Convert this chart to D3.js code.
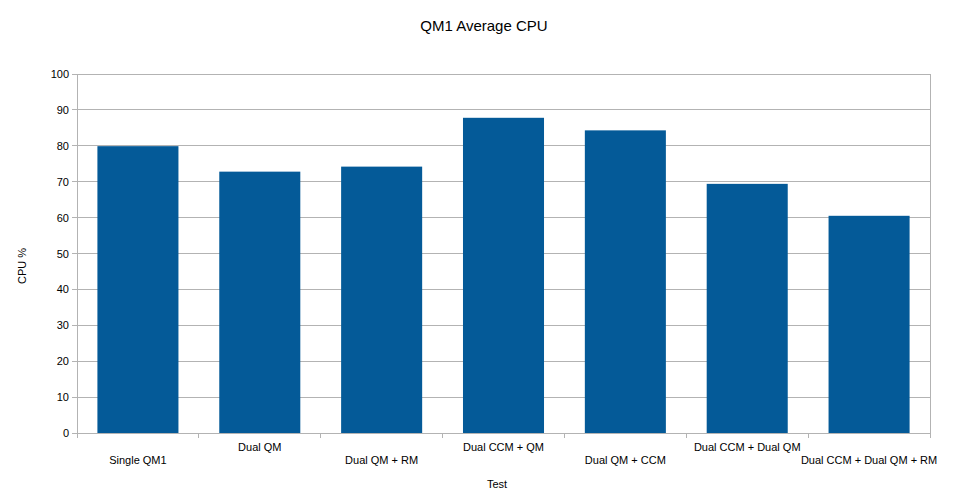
<!DOCTYPE html>
<html><head><meta charset="utf-8">
<script src="https://cdn.jsdelivr.net/npm/d3@7"></script>
<style>body{margin:0;background:#fff;} text{font-family:"Liberation Sans",Arial,sans-serif;fill:#000;}</style>
</head><body><svg id="c" width="978" height="502"></svg>
<script>
const categories = ["Single QM1","Dual QM","Dual QM + RM","Dual CCM + QM","Dual QM + CCM","Dual CCM + Dual QM","Dual CCM + Dual QM + RM"];
const cpuValues = [79.9, 72.8, 74.2, 87.8, 84.3, 69.4, 60.5];
const yTicks = [0,10,20,30,40,50,60,70,80,90,100];

const svg = d3.select("#c");
const m = {l:77, r:930, t:74, b:433};
const x = d3.scaleBand().domain(categories).range([m.l, m.r]).paddingInner(0.335).paddingOuter(0.1675);
const xb = d3.scaleBand().domain(categories).range([m.l, m.r]);
const y = d3.scaleLinear().domain([0,100]).range([m.b, m.t]);
const grid = "#b3b3b3";

// gridlines
svg.append("g").selectAll("line").data(yTicks).join("line")
  .attr("x1", m.l-5).attr("x2", m.r).attr("y1", d=>y(d)).attr("y2", d=>y(d))
  .attr("stroke", grid).attr("stroke-width",1).attr("shape-rendering","crispEdges");
// y labels
svg.append("g").selectAll("text").data(yTicks).join("text")
  .attr("x", m.l-8).attr("y", d=>y(d)+4).attr("text-anchor","end").attr("font-size",11).text(d=>d);
// axes lines
svg.append("line").attr("x1",m.l).attr("x2",m.l).attr("y1",m.t).attr("y2",m.b).attr("stroke",grid).attr("shape-rendering","crispEdges");
svg.append("line").attr("x1",m.r).attr("x2",m.r).attr("y1",m.t).attr("y2",m.b).attr("stroke",grid).attr("shape-rendering","crispEdges");
// x ticks at band boundaries
const bounds = categories.map(c=>xb(c)).concat([m.r]);
svg.append("g").selectAll("line").data(bounds).join("line")
  .attr("x1",d=>d).attr("x2",d=>d).attr("y1",m.b).attr("y2",m.b+5)
  .attr("stroke",grid).attr("shape-rendering","crispEdges");
// bars
svg.append("g").selectAll("rect").data(cpuValues).join("rect")
  .attr("x",(d,i)=>x(categories[i])).attr("width",x.bandwidth())
  .attr("y",d=>y(d)).attr("height",d=>m.b-y(d)).attr("fill","#045a98");
// x labels (staggered)
svg.append("g").selectAll("text").data(categories).join("text")
  .attr("x",c=>xb(c)+xb.bandwidth()/2).attr("y",(c,i)=> i%2===0 ? 464 : 451)
  .attr("text-anchor","middle").attr("font-size",11).text(c=>c);
// titles
svg.append("text").attr("x",484).attr("y",31).attr("text-anchor","middle").attr("font-size",15).text("QM1 Average CPU");
svg.append("text").attr("x",497).attr("y",488).attr("text-anchor","middle").attr("font-size",11).text("Test");
svg.append("text").attr("transform","translate(26,266) rotate(-90)").attr("text-anchor","middle").attr("font-size",11).text("CPU %");
</script></body></html>
